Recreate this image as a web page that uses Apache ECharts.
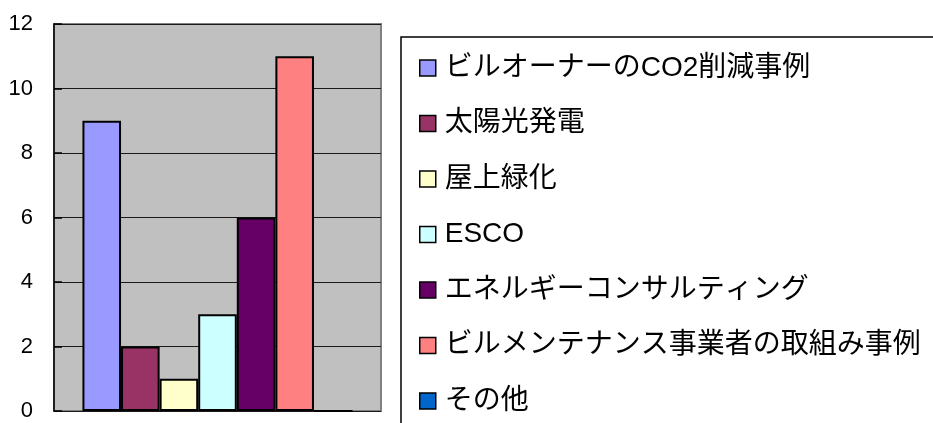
<!DOCTYPE html>
<html>
<head>
<meta charset="utf-8">
<script src="https://cdn.jsdelivr.net/npm/echarts@6/dist/echarts.min.js"></script>
<style>
html,body{margin:0;padding:0;background:#fff;}
#main{width:933px;height:423px;}
</style>
</head>
<body>
<div id="main"></div>
<script>
const categories = [''];
const seriesNames = ['ビルオーナーのCO2削減事例','太陽光発電','屋上緑化','ESCO','エネルギーコンサルティング','ビルメンテナンス事業者の取組み事例','その他'];
const seriesValues = [9, 2, 1, 3, 6, 11, 0];
const seriesColors = ['#9999FF','#993366','#FFFFCC','#CCFFFF','#660066','#FF8080','#0066CC'];
const yTicks = [0, 2, 4, 6, 8, 10, 12];

const chart = echarts.init(document.getElementById('main'), null, {renderer:'canvas'});
const series = seriesNames.map((n, i) => ({
  name: n,
  type: 'bar',
  data: [seriesValues[i]],
  barGap: '0%',
  barCategoryGap: '17.4%',
  itemStyle: {color: seriesColors[i], borderColor: '#000', borderWidth: 2},
  emphasis: {disabled: true},
  animation: false
}));
chart.setOption({
  animation: false,
  grid: {left: 54, right: 552, top: 24, bottom: 12, show: true, backgroundColor: '#C0C0C0', borderColor: '#808080', borderWidth: 2},
  xAxis: {
    type: 'category', data: categories,
    axisLine: {show: false},
    axisTick: {show: false},
    axisLabel: {show: false}
  },
  yAxis: {
    type: 'value', min: yTicks[0], max: yTicks[yTicks.length-1], interval: 2,
    axisLine: {show: true, lineStyle: {color: '#000', width: 1.5}},
    axisTick: {show: true, inside: true, length: 8, lineStyle: {color: '#000', width: 1.5}},
    axisLabel: {margin: 21, color: '#000', fontSize: 22, fontFamily: 'Liberation Sans, Arial, sans-serif'},
    splitLine: {show: true, lineStyle: {color: '#1a1a1a', width: 1}}
  },
  legend: {
    orient: 'vertical',
    left: 401, top: 37,
    width: 600, height: 420,
    padding: [16, 40, 30, 18],
    borderColor: '#000', borderWidth: 1.5, backgroundColor: '#fff',
    itemWidth: 16, itemHeight: 16, itemGap: 25.5,
    icon: 'rect',
    itemStyle: {borderColor: '#000', borderWidth: 1.5},
    textStyle: {fontSize: 28, color: '#000', lineHeight: 30, padding: [0,0,0,4], fontFamily: 'Liberation Sans, "Noto Sans CJK JP", sans-serif'},
    data: seriesNames,
    selectedMode: false
  },
  series: series
});
</script>
</body>
</html>
